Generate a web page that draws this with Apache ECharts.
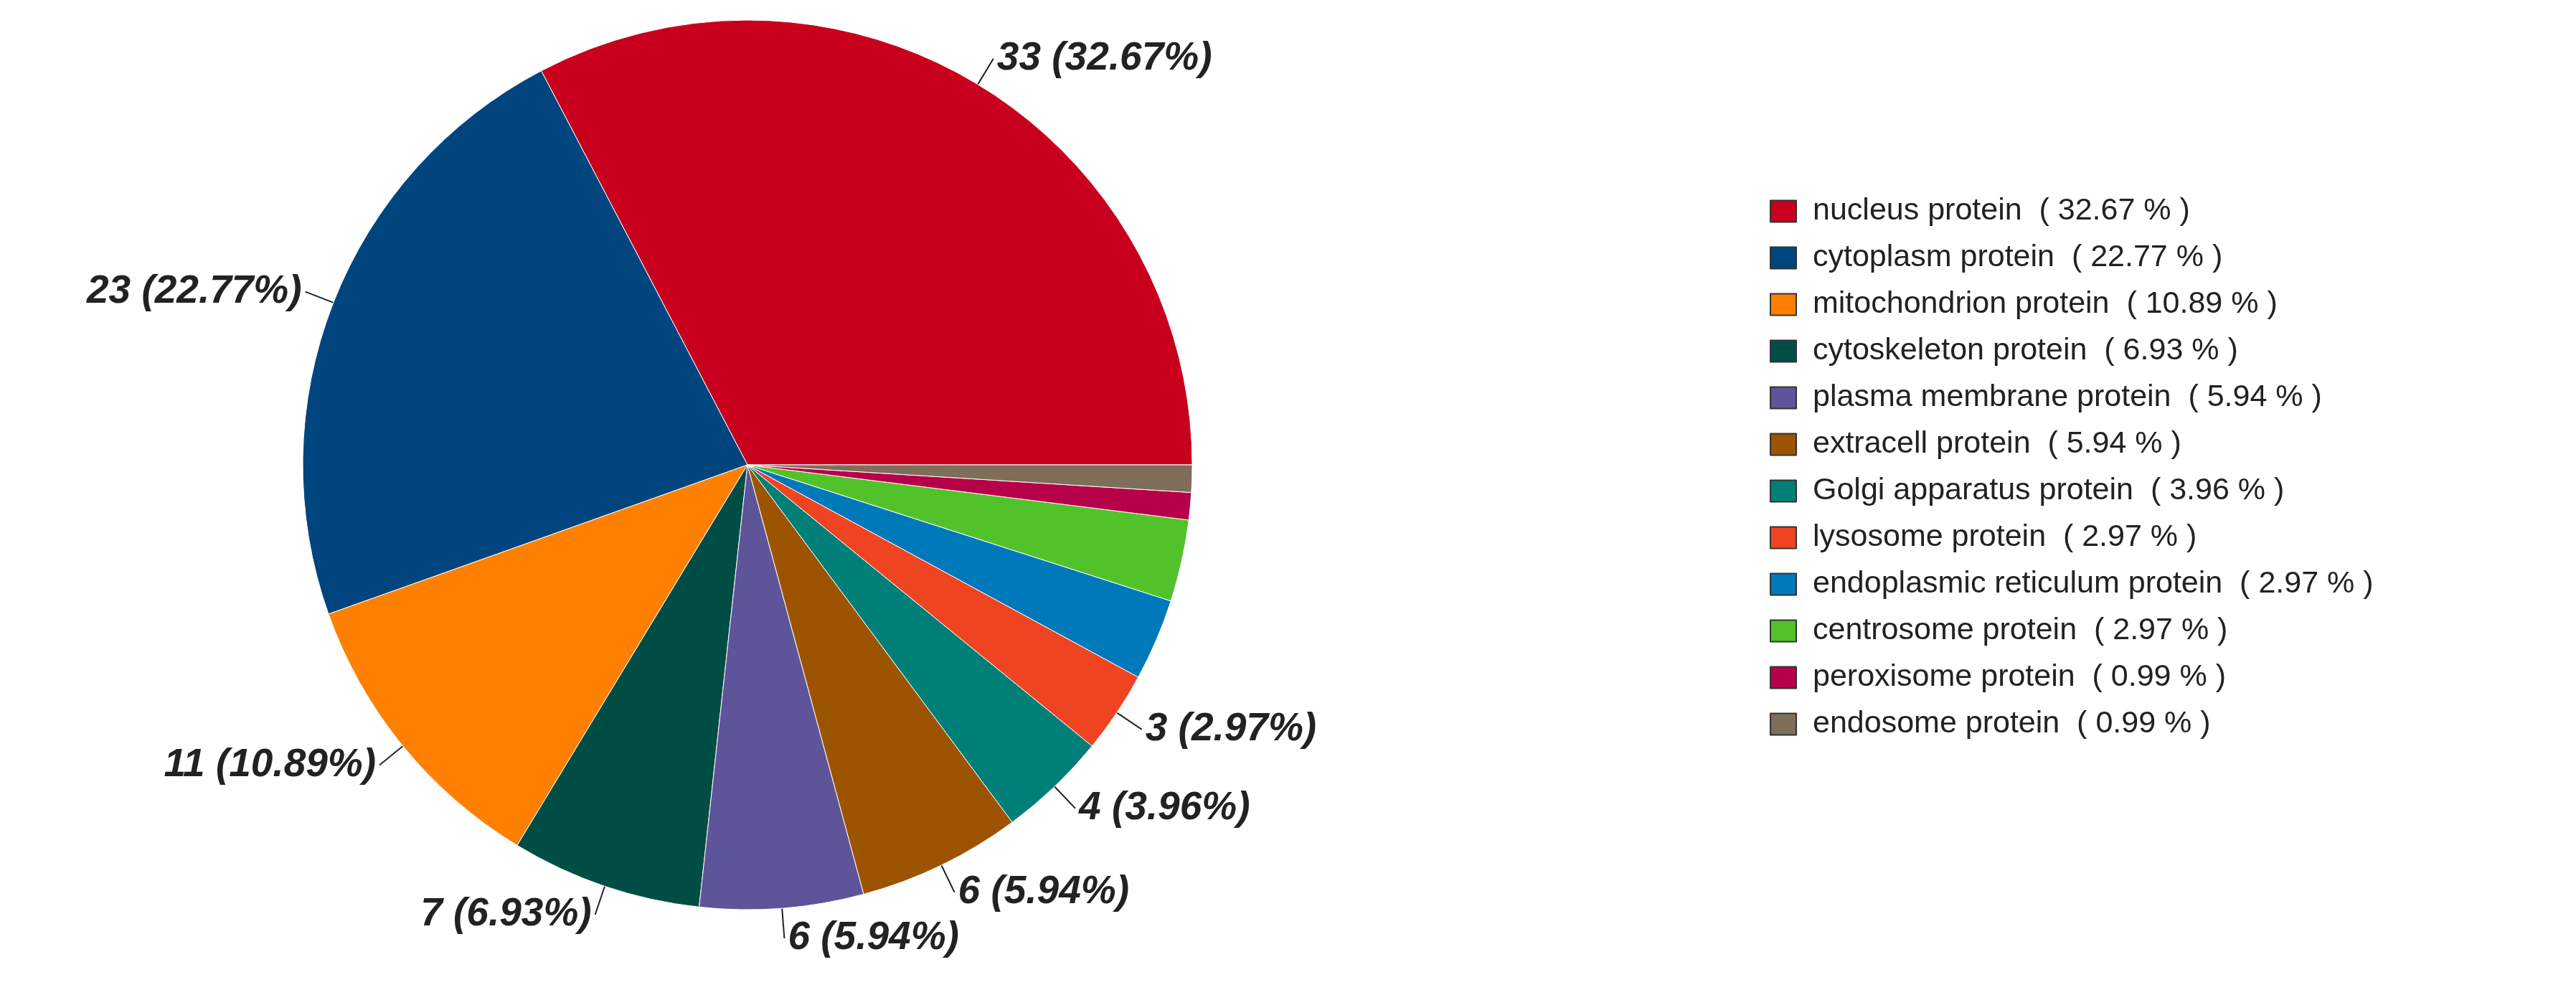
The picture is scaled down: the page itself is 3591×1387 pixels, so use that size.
<!DOCTYPE html>
<html><head><meta charset="utf-8">
<script src="https://cdn.jsdelivr.net/npm/echarts@6/dist/echarts.min.js"></script>
<style>html,body{margin:0;background:#fff}#main{width:3591px;height:1387px}</style>
</head><body><div id="main"></div>
<script>
const names = ['nucleus protein','cytoplasm protein','mitochondrion protein','cytoskeleton protein','plasma membrane protein','extracell protein','Golgi apparatus protein','lysosome protein','endoplasmic reticulum protein','centrosome protein','peroxisome protein','endosome protein'];
const counts = [33,23,11,7,6,6,4,3,3,3,1,1];
const percents = ['32.67','22.77','10.89','6.93','5.94','5.94','3.96','2.97','2.97','2.97','0.99','0.99'];
const colors = ['#C8001E','#00457E','#FF8000','#004D45','#5E5499','#9C5400','#007F78','#EE4422','#0079BA','#52C22A','#B7004A','#7F6E5A'];
const labelled = [true,true,true,true,true,true,true,true,false,false,false,false];

const chart = echarts.init(document.getElementById('main'));
chart.setOption({
  animation: false,
  color: colors,
  legend: {
    orient: 'vertical', left: 2462, top: 268,
    itemWidth: 36, itemHeight: 30, itemGap: 22,
    icon: 'rect',
    itemStyle: { borderColor: '#333', borderWidth: 2 },
    textStyle: { fontFamily: 'Liberation Sans', fontSize: 43, color: '#222', padding: [0,0,0,18] },
    formatter: n => n + '  ( ' + percents[names.indexOf(n)] + ' % )'
  },
  series: [{
    type: 'pie',
    center: [1042, 648], radius: 620,
    startAngle: 0, clockwise: false,
    itemStyle: { borderColor: '#fff', borderWidth: 1 },
    label: {
      fontFamily: 'Liberation Sans', fontSize: 55, fontWeight: 'bold', fontStyle: 'italic', color: '#222',
      formatter: p => counts[p.dataIndex] + ' (' + percents[p.dataIndex] + '%)'
    },
    labelLine: { length: 42, length2: 0, lineStyle: { color: '#222', width: 2 } },
    data: names.map((n, i) => ({
      name: n, value: counts[i],
      label: { show: labelled[i] }, labelLine: { show: labelled[i] }
    }))
  }]
});
</script></body></html>
